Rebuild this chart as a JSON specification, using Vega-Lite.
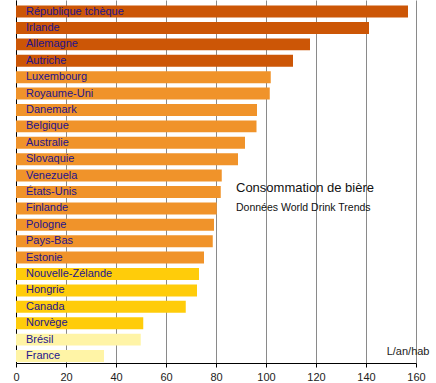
{
  "$schema": "https://vega.github.io/schema/vega-lite/v6.json",
  "width": 400,
  "height": 363,
  "autosize": {"type": "none"},
  "padding": {"left": 16, "top": 0, "right": 20, "bottom": 20},
  "background": "white",
  "config": {"view": {"stroke": null}, "font": "Liberation Sans"},
  "data": {"values": [
    {"pays": "République tchèque", "litres": 156.8},
    {"pays": "Irlande", "litres": 141.2},
    {"pays": "Allemagne", "litres": 117.6},
    {"pays": "Autriche", "litres": 110.8},
    {"pays": "Luxembourg", "litres": 101.9},
    {"pays": "Royaume-Uni", "litres": 101.5},
    {"pays": "Danemark", "litres": 96.4},
    {"pays": "Belgique", "litres": 96.2},
    {"pays": "Australie", "litres": 91.6},
    {"pays": "Slovaquie", "litres": 88.8},
    {"pays": "Venezuela", "litres": 82.3},
    {"pays": "États-Unis", "litres": 81.9},
    {"pays": "Finlande", "litres": 80.3},
    {"pays": "Pologne", "litres": 79.2},
    {"pays": "Pays-Bas", "litres": 78.7},
    {"pays": "Estonie", "litres": 75.2},
    {"pays": "Nouvelle-Zélande", "litres": 73.2},
    {"pays": "Hongrie", "litres": 72.4},
    {"pays": "Canada", "litres": 67.9},
    {"pays": "Norvège", "litres": 50.9},
    {"pays": "Brésil", "litres": 49.9},
    {"pays": "France", "litres": 35.2}
  ]},
  "encoding": {
    "y": {
      "field": "pays", "type": "nominal", "sort": null,
      "scale": {"paddingInner": 0.27, "paddingOuter": 0.2, "align": 0.85},
      "axis": {"labels": false, "ticks": false, "title": null, "grid": false, "domainColor": "#000000", "domainWidth": 1}
    }
  },
  "layer": [
    {
      "mark": {"type": "bar"},
      "encoding": {
        "x": {
          "field": "litres", "type": "quantitative",
          "scale": {"domain": [0, 160], "nice": false},
          "axis": {
            "values": [0,5,10,15,20,25,30,35,40,45,50,55,60,65,70,75,80,85,90,95,100,105,110,115,120,125,130,135,140,145,150,155,160],
            "labelExpr": "datum.value % 20 === 0 ? datum.label : ''",
            "labelFlush": false,
            "labelFontSize": 11,
            "labelColor": "#222222",
            "labelPadding": 4,
            "tickSize": 4,
            "tickColor": "#000000",
            "domainColor": "#000000",
            "grid": true,
            "gridColor": {"condition": {"test": "datum.value % 20 === 0", "value": "#8a8a8a"}, "value": "#ececec"},
            "gridWidth": 1,
            "title": "L/an/hab",
            "titleFontSize": 11,
            "titleFontWeight": "normal",
            "titleColor": "#222222",
            "titleAnchor": "end",
            "titleAlign": "right",
            "titleBaseline": "alphabetic",
            "titleX": 413,
            "titleY": -9
          }
        },
        "color": {
          "field": "litres", "type": "quantitative",
          "scale": {"type": "threshold", "domain": [50.5, 74, 105], "range": ["#fff4a6", "#ffcc0a", "#f0932a", "#cc5606"]},
          "legend": null
        }
      }
    },
    {
      "mark": {"type": "text", "align": "left", "baseline": "middle", "dx": 10, "fontSize": 11, "color": "#24148c"},
      "encoding": {
        "x": {"datum": 0},
        "text": {"field": "pays"}
      }
    },
    {
      "data": {"values": [{}]},
      "mark": {"type": "text", "align": "left", "baseline": "middle", "dy": -4, "fontSize": 13, "color": "#111111", "text": "Consommation de bière"},
      "encoding": {"x": {"datum": 88}, "y": {"datum": "États-Unis"}}
    },
    {
      "data": {"values": [{}]},
      "mark": {"type": "text", "align": "left", "baseline": "middle", "fontSize": 10.5, "color": "#111111", "text": "Données World Drink Trends"},
      "encoding": {"x": {"datum": 88}, "y": {"datum": "Finlande"}}
    }
  ]
}
